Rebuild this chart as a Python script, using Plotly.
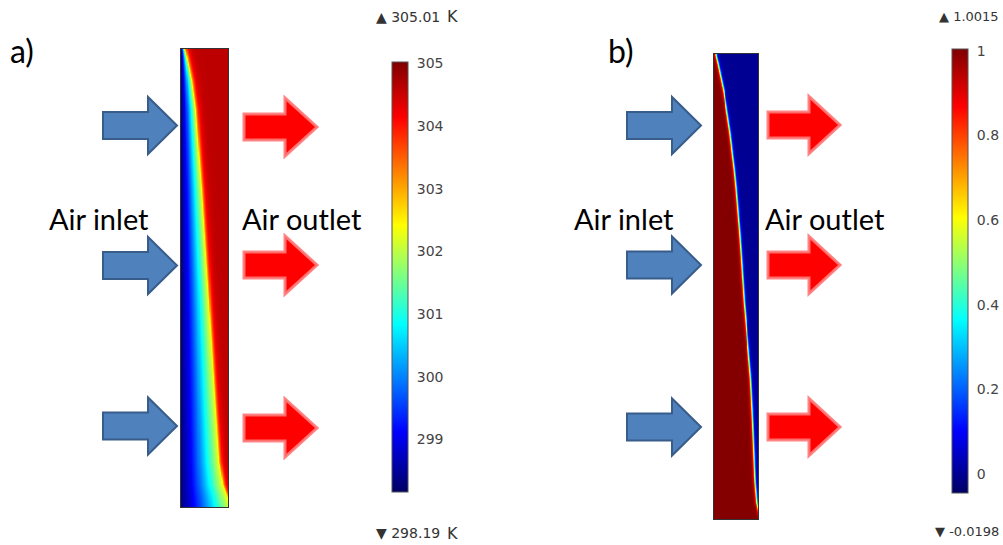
import numpy as np
import plotly.graph_objects as go

W, H = 1003, 545

# ---------------- data ----------------
# Panel a: temperature field (K); front position (fraction of width) vs depth (fraction of height)
a_front_v = [0.0, 0.02, 0.07, 0.13, 0.31, 0.55, 0.78, 0.90, 0.95, 0.975, 1.0]
a_front_u = [0.07, 0.12, 0.22, 0.30, 0.43, 0.58, 0.72, 0.80, 0.88, 0.97, 1.05]
a_t_left = 298.4
a_t_front = 302.3
a_t_hot = 304.6
a_zmin, a_zmax = 298.16, 305.02
a_tickvals = [299, 300, 301, 302, 303, 304, 305]
a_max_label = "305.01"
a_min_label = "298.19"
a_unit = "K"

# Panel b: normalised field (0..1)
b_front_v = [0.0, 0.02, 0.08, 0.17, 0.25, 0.29, 0.41, 0.53, 0.62, 0.70, 0.80, 0.92, 0.965, 1.0]
b_front_u = [0.04, 0.09, 0.22, 0.36, 0.46, 0.50, 0.60, 0.68, 0.76, 0.83, 0.88, 0.93, 0.97, 1.05]
b_zmin, b_zmax = -0.045, 1.004
b_tickvals = [0, 0.2, 0.4, 0.6, 0.8, 1]
b_ticktext = ["0", "0.2", "0.4", "0.6", "0.8", "1"]
b_max_label = "1.0015"
b_min_label = "-0.0198"

labels_inlet = "Air inlet"
labels_outlet = "Air outlet"
panel_labels = ["a)", "b)"]

# ---------------- fields ----------------
nx, ny = 90, 460
u = (np.arange(nx) + 0.5) / nx
v = (np.arange(ny) + 0.5) / ny
U = u[None, :]

Fa = np.interp(v, a_front_v, a_front_u)[:, None]
s = np.clip(U / Fa, 0, 1)
cold = a_t_left + (a_t_front - a_t_left) * s ** 1.25
hot = a_t_hot - (a_t_hot - a_t_front) * np.exp(-np.clip(U - Fa, 0, None) / 0.055)
Ta = np.where(U < Fa, cold, hot)

Fb = np.interp(v, b_front_v, b_front_u)[:, None]
Zb = 1.0 / (1.0 + np.exp((U - Fb) / 0.017))

jet = [[0.0, "rgb(0,0,100)"], [0.14, "rgb(0,0,255)"], [0.39, "rgb(0,255,255)"],
       [0.62, "rgb(255,255,0)"], [0.87, "rgb(255,0,0)"], [1.0, "rgb(128,0,0)"]]


def px(x):
    return x / W


def py(y):
    return 1 - y / H


cb_common = dict(thickness=16, thicknessmode="pixels", lenmode="fraction",
                 xanchor="left", yanchor="top", xpad=0, ypad=0,
                 outlinewidth=1, outlinecolor="#555555",
                 ticks="outside", ticklen=6, tickcolor="rgba(255,255,255,0)",
                 tickfont=dict(family="DejaVu Sans", size=14, color="#444444"))

fig = go.Figure()
fig.add_trace(go.Heatmap(z=Ta, x=u, y=v, colorscale=jet, zmin=a_zmin, zmax=a_zmax,
                         zsmooth="best", xaxis="x", yaxis="y", hoverinfo="skip",
                         colorbar=dict(x=px(392), y=py(62), len=(492 - 62) / H,
                                       tickvals=a_tickvals, **cb_common)))
fig.add_trace(go.Heatmap(z=Zb, x=u, y=v, colorscale=jet, zmin=b_zmin, zmax=b_zmax,
                         zsmooth="best", xaxis="x2", yaxis="y2", hoverinfo="skip",
                         colorbar=dict(x=px(952), y=py(49), len=(493 - 49) / H,
                                       tickvals=b_tickvals, ticktext=b_ticktext, **cb_common)))

ax_common = dict(range=[0, 1], showgrid=False, zeroline=False, showticklabels=False,
                 ticks="", showline=True, mirror=True, linecolor="#333333", linewidth=1)

fig.update_layout(
    width=W, height=H, margin=dict(l=0, r=0, t=0, b=0),
    paper_bgcolor="white", plot_bgcolor="white", showlegend=False,
    xaxis=dict(domain=[px(181), px(228)], **ax_common),
    yaxis=dict(domain=[py(507), py(49)], autorange=False, **{**ax_common, "range": [1, 0]}),
    xaxis2=dict(domain=[px(714), px(758)], anchor="y2", **ax_common),
    yaxis2=dict(domain=[py(519), py(54)], anchor="x2", **{**ax_common, "range": [1, 0]}),
)

# small tick dashes drawn on the colour bars at the tick values (left and right edges)
def bar_ticks(x_left, x_right, y_top, y_bot, zmin, zmax, vals):
    for val in vals:
        yy = y_bot - (val - zmin) / (zmax - zmin) * (y_bot - y_top)
        for xa, xb in [(x_left, x_left + 3), (x_right - 3, x_right)]:
            fig.add_shape(type="line", xref="paper", yref="paper",
                          x0=px(xa), x1=px(xb), y0=py(yy), y1=py(yy),
                          line=dict(color="#333333", width=1))


bar_ticks(392, 408, 62, 492, a_zmin, a_zmax, a_tickvals[:-1])
bar_ticks(952, 968, 49, 493, b_zmin, b_zmax, b_tickvals[1:-1])


def arrow(x0, xh, tip, yc, bh, hh, fill, edge, lw):
    pts = [(x0, yc - bh), (xh, yc - bh), (xh, yc - hh), (tip, yc), (xh, yc + hh),
           (xh, yc + bh), (x0, yc + bh)]
    path = "M " + " L ".join(f"{px(x):.5f},{py(y):.5f}" for x, y in pts) + " Z"
    fig.add_shape(type="path", path=path, xref="paper", yref="paper",
                  fillcolor=fill, line=dict(color=edge, width=lw), layer="above")


blue_fill, blue_edge = "#4F81BD", "#385D8A"
red_fill, red_edge = "#FF0000", "rgba(255,120,120,0.9)"

for yc in [125.5, 265.5, 426]:
    arrow(103, 148, 177, yc, 13.5, 28.5, blue_fill, blue_edge, 2)
for yc in [127, 265, 428]:
    arrow(244, 285, 317, yc, 13, 29, red_fill, red_edge, 3)
for yc in [125.5, 265, 427]:
    arrow(627, 672, 701, yc, 13.5, 28.5, blue_fill, blue_edge, 2)
for yc in [125, 265, 427]:
    arrow(768, 809, 840, yc, 13, 28.5, red_fill, red_edge, 3)


def text(x, y, t, size, color="black", family="Lato", xanchor="center"):
    fig.add_annotation(x=px(x), y=py(y), xref="paper", yref="paper", text=t,
                       showarrow=False, xanchor=xanchor, yanchor="middle",
                       font=dict(family=family, size=size, color=color))


text(22, 50, panel_labels[0], 32)
text(621, 50, panel_labels[1], 32)
text(98.5, 218, labels_inlet, 29)
text(301.5, 218, labels_outlet, 29)
text(623.5, 218, labels_inlet, 29)
text(824.5, 218, labels_outlet, 29)

text(407.5, 17, "\u25B2 " + a_max_label, 14, "#333333", "DejaVu Sans")
text(407.5, 533, "\u25BC " + a_min_label, 14, "#333333", "DejaVu Sans")
text(452, 17, a_unit, 16, "#333333", "DejaVu Sans")
text(452, 533, a_unit, 16, "#333333", "DejaVu Sans")
text(1001, 17, "\u25B2 " + b_max_label, 13, "#333333", "DejaVu Sans", xanchor="right")
text(1001, 531, "\u25BC " + b_min_label, 13, "#333333", "DejaVu Sans", xanchor="right")

fig.write_html("out.html")
